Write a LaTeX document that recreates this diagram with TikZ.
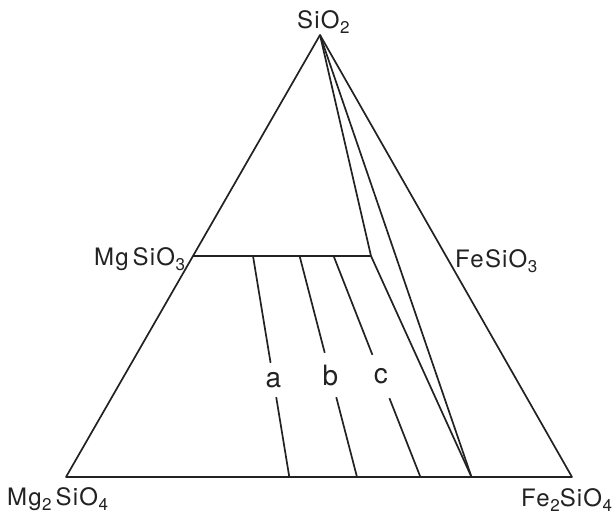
\documentclass[tikz,border=0pt]{standalone}
\usepackage{fontspec}
\setmainfont{TeX Gyre Heros}[LetterSpace=5]
\newcommand\chsub[1]{\kern0.5pt\raisebox{-0.22em}{\fontsize{17}{17}\selectfont #1}}
\definecolor{ink}{HTML}{222222}
\begin{document}
\begin{tikzpicture}[x=1pt,y=-1pt,
  edge/.style={line width=1.7pt, draw=ink, line join=round},
  chem/.style={inner sep=0pt, anchor=base west, text=ink, font=\fontsize{24}{26}\selectfont},
  letter/.style={inner sep=0pt, minimum width=24pt, text=ink, font=\fontsize{28}{30}\selectfont}]
\useasboundingbox (0,0) rectangle (613,515);
% corners and points
\coordinate (S) at (320,35);
\coordinate (L) at (66,477);
\coordinate (R) at (572,477);
\coordinate (M) at (193,256);
\coordinate (F) at (446,256);
\coordinate (E) at (371,256);
\coordinate (P) at (471.5,477);
\coordinate (a1) at (253,256);
\coordinate (a2) at (289.3,477);
\coordinate (b1) at (299.6,256);
\coordinate (b2) at (357,477);
\coordinate (c1) at (333.6,256);
\coordinate (c2) at (420.4,477);
% letters on the lines
\node[letter, minimum height=34pt] (la) at (273.4,380) {a};
\node[letter, minimum height=44pt] (lb) at (330.5,375) {b};
\node[letter, minimum height=43pt] (lc) at (380.9,376.5) {c};
% triangle
\draw[edge] (S) -- (L) -- (R) -- cycle;
\draw[edge] (M) -- (E);
\draw[edge] (S) -- (E) -- (P);
\draw[edge] (S) -- (P);
\draw[edge] (a1) -- (la) -- (a2);
\draw[edge] (b1) -- (lb) -- (b2);
\draw[edge] (c1) -- (lc) -- (c2);
% labels
\node[chem] (tS) at (297,28) {SiO\chsub{2}};
\node[chem] (tM) at (94,265) {Mg\,SiO\chsub{3}};
\node[chem] (tF) at (455,267) {FeSiO\chsub{3}};
\node[chem] (tL) at (7,505) {Mg\chsub{2}\,SiO\chsub{4}};
\node[chem] (tR) at (521,506) {Fe\chsub{2}SiO\chsub{4}};
\end{tikzpicture}
\end{document}
